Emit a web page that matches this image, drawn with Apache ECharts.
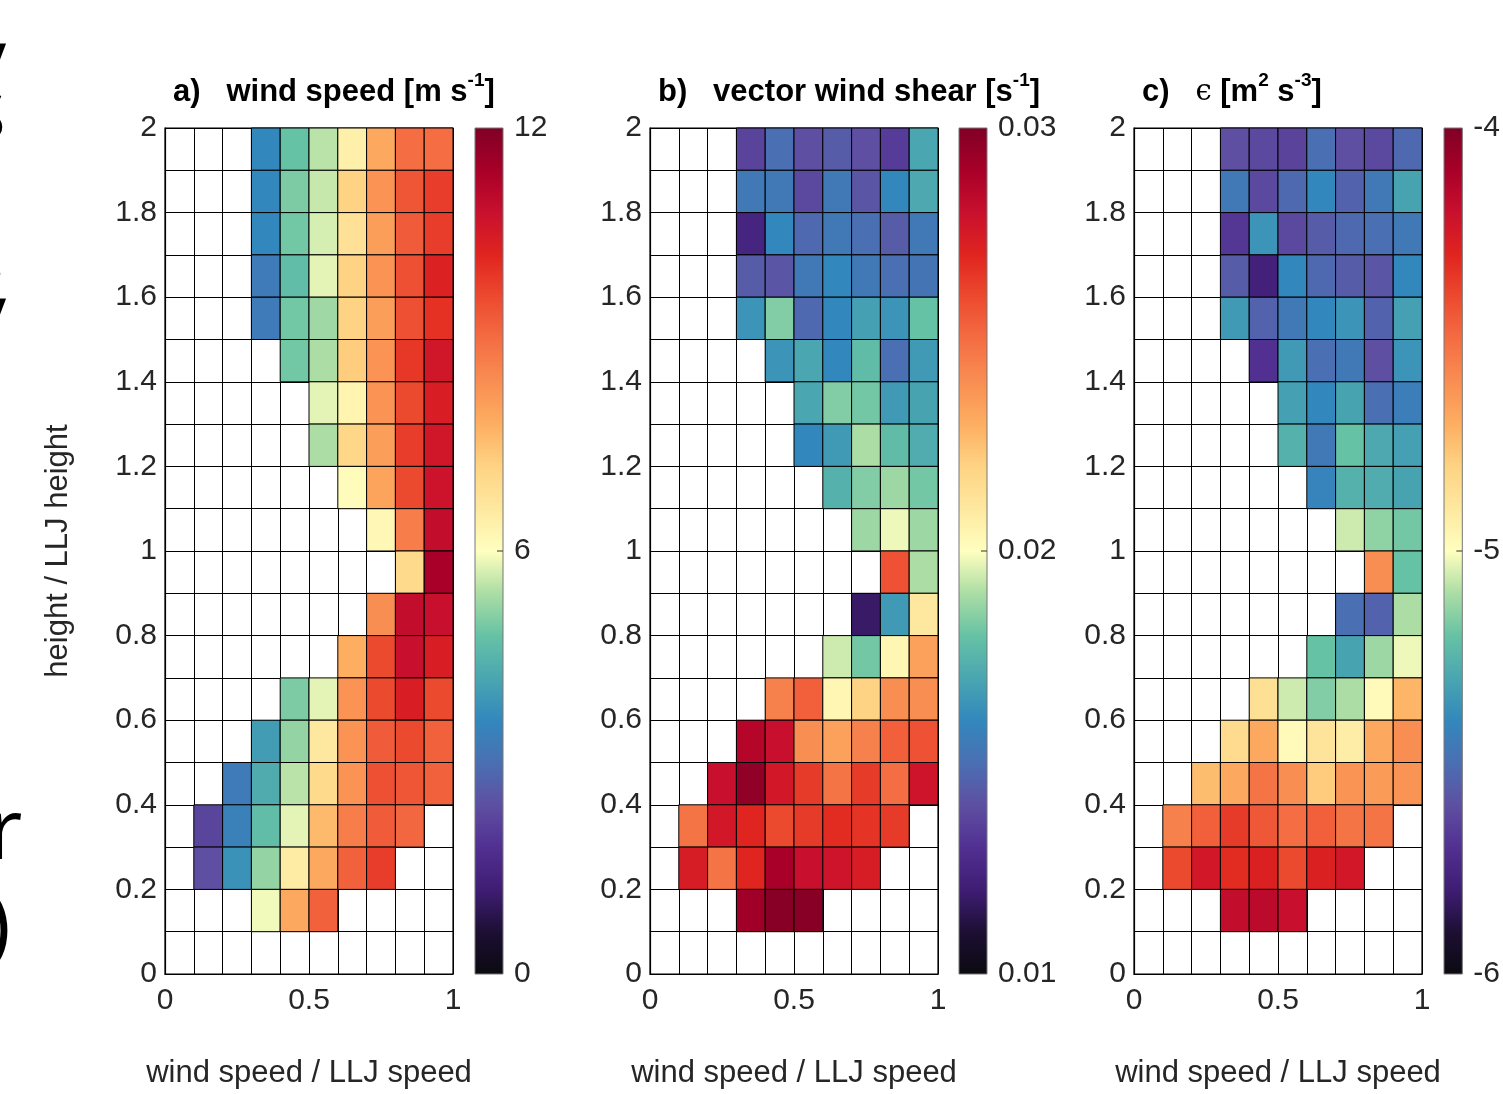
<!DOCTYPE html>
<html>
<head>
<meta charset="utf-8">
<script src="https://cdn.jsdelivr.net/npm/echarts@6/dist/echarts.min.js"></script>
<style>
  html, body { margin: 0; padding: 0; background: #fff; }
  #chart { width: 1503px; height: 1094px; }
</style>
</head>
<body>
<div id="chart"></div>
<script>
// bin edges (x: wind speed / LLJ speed, y: height / LLJ height)
var xEdges = [0, 0.1, 0.2, 0.3, 0.4, 0.5, 0.6, 0.7, 0.8, 0.9, 1.0];
var yEdges = [0, 0.1, 0.2, 0.3, 0.4, 0.5, 0.6, 0.7, 0.8, 0.9, 1.0,
              1.1, 1.2, 1.3, 1.4, 1.5, 1.6, 1.7, 1.8, 1.9, 2.0];

var _ = null;
// rows listed from top (1.9-2.0) down to bottom (0-0.1)
var windSpeed = [
  [_, _, _, 3.6, 4.8, 5.5, 6.4, 7.9, 9.0, 9.0],
  [_, _, _, 3.6, 5.0, 5.6, 7.2, 8.3, 9.4, 9.8],
  [_, _, _, 3.6, 4.9, 5.7, 6.8, 8.1, 9.3, 9.8],
  [_, _, _, 3.3, 4.7, 5.8, 7.2, 8.3, 9.5, 10.3],
  [_, _, _, 3.3, 4.9, 5.3, 7.2, 8.1, 9.5, 10.0],
  [_, _, _, _, 4.9, 5.4, 7.3, 8.3, 9.9, 10.6],
  [_, _, _, _, _, 5.8, 6.3, 8.3, 9.6, 10.4],
  [_, _, _, _, _, 5.4, 7.1, 8.1, 9.8, 10.6],
  [_, _, _, _, _, _, 6.1, 8.0, 9.6, 10.7],
  [_, _, _, _, _, _, _, 6.2, 8.7, 10.9],
  [_, _, _, _, _, _, _, _, 7.0, 11.4],
  [_, _, _, _, _, _, _, 8.4, 10.9, 10.8],
  [_, _, _, _, _, _, 7.8, 9.6, 10.8, 10.4],
  [_, _, _, _, 5.0, 5.8, 8.3, 9.6, 10.4, 9.6],
  [_, _, _, 4.0, 5.2, 6.6, 8.3, 9.3, 9.6, 9.2],
  [_, _, 3.3, 4.3, 5.5, 7.0, 8.3, 9.5, 9.4, 9.2],
  [_, 2.2, 3.4, 4.7, 5.8, 7.6, 8.7, 9.3, 9.1, _],
  [_, 2.4, 3.8, 5.2, 6.5, 7.9, 9.2, 9.8, _, _],
  [_, _, _, 5.9, 7.9, 9.2, _, _, _, _],
  [_, _, _, _, _, _, _, _, _, _]
];

var windShear = [
  [_, _, _, 0.0136, 0.0150, 0.0140, 0.0144, 0.0140, 0.0134, 0.0170],
  [_, _, _, 0.0154, 0.0154, 0.0138, 0.0154, 0.0142, 0.0160, 0.0171],
  [_, _, _, 0.0124, 0.0160, 0.0148, 0.0154, 0.0150, 0.0144, 0.0154],
  [_, _, _, 0.0144, 0.0142, 0.0154, 0.0160, 0.0154, 0.0150, 0.0152],
  [_, _, _, 0.0164, 0.0184, 0.0148, 0.0160, 0.0168, 0.0164, 0.0180],
  [_, _, _, _, 0.0164, 0.0170, 0.0160, 0.0178, 0.0150, 0.0166],
  [_, _, _, _, _, 0.0170, 0.0184, 0.0182, 0.0166, 0.0169],
  [_, _, _, _, _, 0.0160, 0.0166, 0.0190, 0.0178, 0.0172],
  [_, _, _, _, _, _, 0.0174, 0.0184, 0.0188, 0.0182],
  [_, _, _, _, _, _, _, 0.0188, 0.0198, 0.0188],
  [_, _, _, _, _, _, _, _, 0.0258, 0.0190],
  [_, _, _, _, _, _, _, 0.0118, 0.0166, 0.0210],
  [_, _, _, _, _, _, 0.0194, 0.0182, 0.0204, 0.0234],
  [_, _, _, _, 0.0244, 0.0254, 0.0204, 0.0220, 0.0240, 0.0240],
  [_, _, _, 0.0286, 0.0280, 0.0240, 0.0234, 0.0244, 0.0254, 0.0258],
  [_, _, 0.0280, 0.0296, 0.0276, 0.0264, 0.0248, 0.0264, 0.0250, 0.0278],
  [_, 0.0248, 0.0276, 0.0270, 0.0260, 0.0264, 0.0268, 0.0266, 0.0264, _],
  [_, 0.0274, 0.0248, 0.0270, 0.0290, 0.0280, 0.0278, 0.0274, _, _],
  [_, _, _, 0.0292, 0.0298, 0.0298, _, _, _, _],
  [_, _, _, _, _, _, _, _, _, _]
];

var dissipation = [
  [_, _, _, -5.60, -5.62, -5.64, -5.50, -5.60, -5.62, -5.52],
  [_, _, _, -5.46, -5.62, -5.52, -5.40, -5.54, -5.46, -5.31],
  [_, _, _, -5.68, -5.36, -5.62, -5.56, -5.52, -5.50, -5.46],
  [_, _, _, -5.56, -5.78, -5.40, -5.52, -5.56, -5.58, -5.40],
  [_, _, _, -5.34, -5.54, -5.46, -5.40, -5.36, -5.54, -5.32],
  [_, _, _, _, -5.70, -5.34, -5.50, -5.46, -5.60, -5.36],
  [_, _, _, _, _, -5.32, -5.40, -5.31, -5.50, -5.44],
  [_, _, _, _, _, -5.26, -5.46, -5.20, -5.29, -5.32],
  [_, _, _, _, _, _, -5.42, -5.26, -5.28, -5.31],
  [_, _, _, _, _, _, _, -5.06, -5.14, -5.18],
  [_, _, _, _, _, _, _, _, -4.60, -5.20],
  [_, _, _, _, _, _, _, -5.50, -5.54, -5.10],
  [_, _, _, _, _, _, -5.20, -5.31, -5.12, -5.02],
  [_, _, _, _, -4.86, -5.06, -5.16, -5.10, -4.98, -4.72],
  [_, _, _, -4.84, -4.68, -4.98, -4.88, -4.92, -4.68, -4.60],
  [_, _, -4.74, -4.68, -4.52, -4.60, -4.78, -4.62, -4.64, -4.62],
  [_, -4.56, -4.46, -4.36, -4.44, -4.50, -4.46, -4.52, -4.52, _],
  [_, -4.40, -4.24, -4.32, -4.28, -4.40, -4.28, -4.24, _, _],
  [_, _, _, -4.18, -4.16, -4.20, _, _, _, _],
  [_, _, _, _, _, _, _, _, _, _]
];

var colorLimits = [[0, 12], [0.01, 0.03], [-6, -4]];
var colorTicks = [6, 0.01, 1];

// colormap (low -> high)
var palette = [
  '#0b0a10', '#1c0f33', '#3f1d74', '#513091', '#5e4fa2', '#4a6fb2', '#3288bd',
  '#4aa6b0', '#66c2a5', '#abdda4', '#ffffbf', '#fee8a0', '#fed383', '#fdae61',
  '#f98e52', '#f46d43', '#ec4a2f', '#e0241f', '#c8102e', '#a80028', '#800026'
];

var fontFam = '"Liberation Sans", Arial, Helvetica, sans-serif';
var txtColor = '#262626';

function toCells(rows) {
  var out = [];
  for (var r = 0; r < rows.length; r++) {
    var yi = rows.length - 1 - r;
    for (var c = 0; c < rows[r].length; c++) {
      if (rows[r][c] == null) continue;
      out.push([xEdges[c], yEdges[yi], rows[r][c], xEdges[c + 1], yEdges[yi + 1]]);
    }
  }
  return out;
}

function cellItem(params, api) {
  var p0 = api.coord([api.value(0), api.value(4)]);
  var p1 = api.coord([api.value(3), api.value(1)]);
  return {
    type: 'rect',
    shape: { x: p0[0], y: p0[1], width: p1[0] - p0[0], height: p1[1] - p0[1] },
    style: { fill: api.visual('color'), stroke: '#000', lineWidth: 1 }
  };
}

// colorbar: gradient rect plus a short tick at the middle value on the right edge
function barItem(params, api) {
  var lo = api.value(0), hi = api.value(1);
  var p0 = api.coord([0, hi]);
  var p1 = api.coord([1, lo]);
  var pm = api.coord([1, (lo + hi) / 2]);
  var stops = palette.map(function (c, i) { return { offset: i / (palette.length - 1), color: c }; });
  return {
    type: 'group',
    children: [{
      type: 'rect',
      shape: { x: p0[0], y: p0[1], width: p1[0] - p0[0], height: p1[1] - p0[1] },
      style: {
        fill: new echarts.graphic.LinearGradient(0, 1, 0, 0, stops),
        stroke: '#777', lineWidth: 1
      }
    }, {
      type: 'line',
      shape: { x1: pm[0] - 6, y1: pm[1], x2: pm[0], y2: pm[1] },
      style: { stroke: '#333', lineWidth: 1 }
    }]
  };
}

var panels = [windSpeed, windShear, dissipation];
var gridLefts = [165, 650, 1134];
var barLefts = [475, 959, 1444];
var gridTop = 128, gridHeight = 846, gridWidth = 288;

var grids = [], xAxes = [], yAxes = [], series = [], visualMaps = [];

panels.forEach(function (rows, i) {
  grids.push({ left: gridLefts[i], top: gridTop, width: gridWidth, height: gridHeight,
    show: true, borderColor: '#000', borderWidth: 1.2, backgroundColor: '#fff' });
  xAxes.push({
    gridIndex: i, type: 'value', min: 0, max: 1, interval: 0.1,
    axisLine: { show: true, lineStyle: { color: '#000', width: 1.2 } },
    axisTick: { show: false },
    splitLine: { show: true, lineStyle: { color: '#000', width: 1 } },
    axisLabel: {
      margin: 12, fontSize: 30, color: txtColor, fontFamily: fontFam,
      formatter: function (v) {
        var k = Math.round(v * 10);
        return k % 5 === 0 ? String(k / 10) : '';
      }
    },
    name: 'wind speed / LLJ speed', nameLocation: 'middle', nameGap: 84,
    nameTextStyle: { fontSize: 31, color: txtColor, fontFamily: fontFam }
  });
  yAxes.push({
    gridIndex: i, type: 'value', min: 0, max: 2, interval: 0.1,
    axisLine: { show: true, lineStyle: { color: '#000', width: 1.2 } },
    axisTick: { show: false },
    splitLine: { show: true, lineStyle: { color: '#000', width: 1 } },
    axisLabel: {
      margin: 8, fontSize: 30, color: txtColor, fontFamily: fontFam,
      formatter: function (v) {
        var k = Math.round(v * 10);
        return k % 2 === 0 ? String(k / 10) : '';
      }
    },
    name: i === 0 ? 'height / LLJ height' : '', nameLocation: 'middle', nameGap: 91,
    nameTextStyle: { fontSize: 31, color: txtColor, fontFamily: fontFam }
  });
  series.push({
    type: 'custom', xAxisIndex: i, yAxisIndex: i,
    renderItem: cellItem, data: toCells(rows),
    encode: { x: [0, 3], y: [1, 4] }, silent: true, z: 3
  });
  visualMaps.push({
    type: 'continuous', show: false, seriesIndex: i, dimension: 2,
    min: colorLimits[i][0], max: colorLimits[i][1],
    inRange: { color: palette }
  });
});

// colorbars
panels.forEach(function (rows, i) {
  var gi = 3 + i;
  grids.push({ left: barLefts[i], top: gridTop, width: 28, height: gridHeight });
  xAxes.push({ gridIndex: gi, type: 'value', min: 0, max: 1, show: false });
  yAxes.push({
    gridIndex: gi, type: 'value', position: 'right',
    min: colorLimits[i][0], max: colorLimits[i][1], interval: colorTicks[i],
    axisLine: { show: false },
    axisTick: { show: false },
    splitLine: { show: false },
    axisLabel: {
      margin: 11, fontSize: 30, color: txtColor, fontFamily: fontFam,
      formatter: function (v) {
        return i === 1 ? v.toFixed(2) : String(Math.round(v));
      }
    }
  });
  series.push({
    type: 'custom', xAxisIndex: gi, yAxisIndex: gi, silent: true, z: 3,
    renderItem: barItem, data: [[colorLimits[i][0], colorLimits[i][1]]],
    encode: { y: [0, 1] }
  });
});

var titleRich = {
  sup: { fontSize: 19, fontWeight: 'bold', fontFamily: fontFam, color: '#000',
         verticalAlign: 'top', lineHeight: 18 },
  eps: { fontSize: 29, fontWeight: 'normal', fontFamily: '"DejaVu Serif", serif',
         color: '#000' }
};
function mkTitle(text, left) {
  return {
    text: text, left: left, top: 71, padding: 0,
    textStyle: { fontSize: 31, fontWeight: 'bold', color: '#000', fontFamily: fontFam,
                 lineHeight: 42, rich: titleRich }
  };
}

// fragments of the neighbouring panel that are cut at the left edge
function edgeText(t, x, y) {
  return { type: 'text', x: x, y: y,
    style: { text: t, fontSize: 84, fontFamily: '"Open Sans", sans-serif',
             fill: '#000', verticalAlign: 'middle' } };
}

var myChart = echarts.init(document.getElementById('chart'), null, { renderer: 'canvas' });
myChart.setOption({
  animation: false,
  backgroundColor: '#fff',
  title: [
    mkTitle('a)   wind speed [m s{sup|-1}]', 173),
    mkTitle('b)   vector wind shear [s{sup|-1}]', 658),
    mkTitle('c)   {eps|\u03f5} [m{sup|2} s{sup|-3}]', 1142)
  ],
  grid: grids,
  xAxis: xAxes,
  yAxis: yAxes,
  visualMap: visualMaps,
  series: series,
  graphic: [
    edgeText('y', -36, 65),
    edgeText('s', -34, 115),
    edgeText('s', -36, 262),
    edgeText('y', -36, 320),
    edgeText('r', -12, 835),
    edgeText(')', -14, 930)
  ]
});
</script>
</body>
</html>
